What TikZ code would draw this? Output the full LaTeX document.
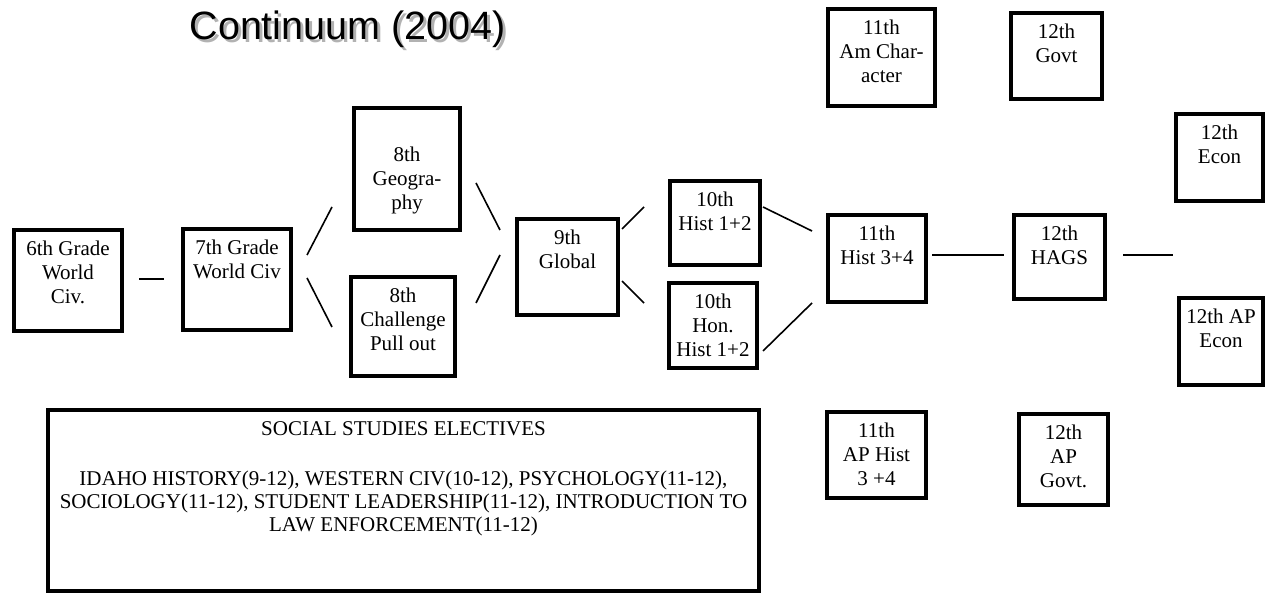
\documentclass[tikz,border=0pt]{standalone}
\usepackage{fontspec}
\setmainfont{Liberation Serif}
\newfontfamily\titlefont{Liberation Sans}
\newcommand{\boxtext}[4][26bp]{\parbox[c][#3][t]{#2}{\centering\rule{0pt}{#1}#4}}
\begin{document}
\begin{tikzpicture}[>=latex,line join=miter,
  gbox/.style={draw,line width=4bp,inner sep=0pt,outer sep=2bp,font=\fontsize{21bp}{24bp}\selectfont},
  link/.style={line width=1.6bp},
  ]
\useasboundingbox (0bp,0bp) rectangle (1265bp,594bp);
%%
\node (titleshadow) at (189bp,551bp) [anchor=base west,text=black!30,font=\titlefont\fontsize{39.5bp}{46bp}\selectfont] {Continuum (2004)};
\node (title) at (186bp,554bp) [anchor=base west,font=\titlefont\fontsize{39.5bp}{46bp}\selectfont] {Continuum (2004)};
%
\node (g6) at (68bp,313.5bp) [gbox] {\boxtext{108bp}{101bp}{6th Grade\\World\\Civ.}};
  \node (g7) at (237bp,314.5bp) [gbox] {\boxtext{108bp}{101bp}{7th Grade\\World Civ}};
  \node (geo8) at (407bp,425bp) [gbox] {\boxtext[54bp]{106bp}{122bp}{8th\\Geogra-\\phy}};
  \node (chal8) at (403bp,267.5bp) [gbox] {\boxtext{104bp}{99bp}{8th\\Challenge\\Pull out}};
  \node (g9) at (567.5bp,327bp) [gbox] {\boxtext{101bp}{96bp}{9th\\Global}};
  \node (h10) at (715bp,371bp) [gbox] {\boxtext{90bp}{84bp}{10th\\Hist 1+2}};
  \node (hon10) at (713bp,268.5bp) [gbox] {\boxtext{88bp}{85bp}{10th\\Hon.\\Hist 1+2}};
  \node (h11) at (877bp,335.5bp) [gbox] {\boxtext{98bp}{87bp}{11th\\Hist 3+4}};
  \node (hags12) at (1059.5bp,337bp) [gbox] {\boxtext{91bp}{84bp}{12th\\HAGS}};
  \node (amc11) at (881.5bp,536.5bp) [gbox] {\boxtext{107bp}{97bp}{11th\\Am Char-\\acter}};
  \node (govt12) at (1056.5bp,538bp) [gbox] {\boxtext{91bp}{86bp}{12th\\Govt}};
  \node (econ12) at (1219.5bp,436.5bp) [gbox] {\boxtext{87bp}{87bp}{12th\\Econ}};
  \node (apecon12) at (1221bp,252.5bp) [gbox] {\boxtext{84bp}{87bp}{12th AP\\Econ}};
  \node (aph11) at (876.5bp,139bp) [gbox] {\boxtext{99bp}{86bp}{11th\\AP Hist\\3 +4}};
  \node (apgovt12) at (1063.5bp,134.5bp) [gbox] {\boxtext{89bp}{91bp}{12th\\AP\\Govt.}};
  \node (electives) at (403.5bp,93.5bp) [gbox,font=\fontsize{21bp}{23bp}\selectfont] {\boxtext{711bp}{181bp}{SOCIAL STUDIES ELECTIVES\\[27bp]IDAHO HISTORY(9-12), WESTERN CIV(10-12), PSYCHOLOGY(11-12),\\SOCIOLOGY(11-12), STUDENT LEADERSHIP(11-12), INTRODUCTION TO\\LAW ENFORCEMENT(11-12)}};
  \coordinate (fork) at (1173bp,339bp);
%
  \draw [link] ([xshift=15bp,yshift=1.5bp]g6.east) -- ([xshift=-17bp,yshift=0.5bp]g7.west);
  \draw [link] ([xshift=14bp,yshift=24.5bp]g7.east) -- ([xshift=-20bp,yshift=-38bp]geo8.west);
  \draw [link] ([xshift=14bp,yshift=1.5bp]g7.east) -- ([xshift=-17bp,yshift=-0.5bp]chal8.west);
  \draw [link] ([xshift=14bp,yshift=-14bp]geo8.east) -- ([xshift=-15bp,yshift=37bp]g9.west);
  \draw [link] ([xshift=19bp,yshift=23.5bp]chal8.east) -- ([xshift=-15bp,yshift=12bp]g9.west);
  \draw [link] ([xshift=2bp,yshift=38bp]g9.east) -- ([xshift=-24bp,yshift=16bp]h10.west);
  \draw [link] ([xshift=2bp,yshift=-14bp]g9.east) -- ([xshift=-23bp,yshift=22.5bp]hon10.west);
  \draw [link] ([xshift=1bp,yshift=16bp]h10.east) -- ([xshift=-14bp,yshift=27.5bp]h11.west);
  \draw [link] ([xshift=4bp,yshift=-25.5bp]hon10.east) -- ([xshift=-14bp,yshift=-44.5bp]h11.west);
  \draw [link] ([xshift=4bp,yshift=3.5bp]h11.east) -- ([xshift=-8bp,yshift=2bp]hags12.west);
  \draw [link] ([xshift=16bp,yshift=2bp]hags12.east) -- (fork);
%
\end{tikzpicture}
\end{document}
